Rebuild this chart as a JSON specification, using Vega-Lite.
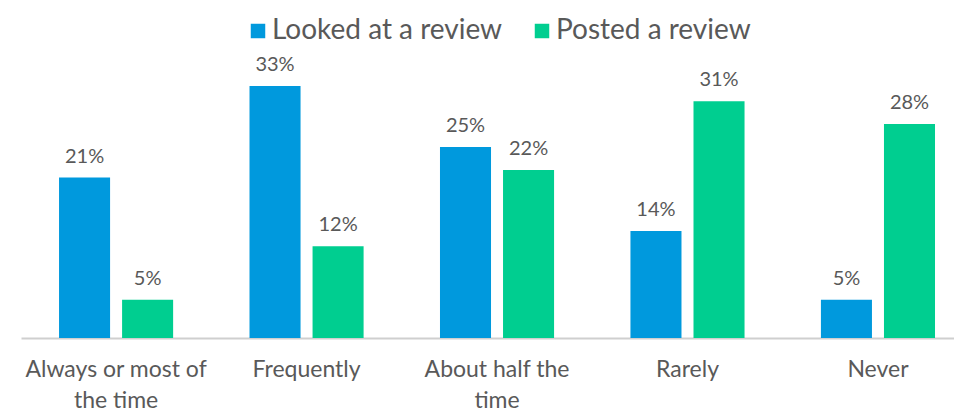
{
  "$schema": "https://vega.github.io/schema/vega-lite/v6.json",
  "autosize": "none",
  "width": 933,
  "height": 275,
  "padding": {"left": 21, "top": 63, "right": 0, "bottom": 73},
  "background": "white",
  "config": {"view": {"stroke": null}, "font": "Lato"},
  "data": {
    "values": [
      {"category": "Always or most of the time", "series": "Looked at a review", "value": 0.21},
      {"category": "Always or most of the time", "series": "Posted a review", "value": 0.05},
      {"category": "Frequently", "series": "Looked at a review", "value": 0.33},
      {"category": "Frequently", "series": "Posted a review", "value": 0.12},
      {"category": "About half the time", "series": "Looked at a review", "value": 0.25},
      {"category": "About half the time", "series": "Posted a review", "value": 0.22},
      {"category": "Rarely", "series": "Looked at a review", "value": 0.14},
      {"category": "Rarely", "series": "Posted a review", "value": 0.31},
      {"category": "Never", "series": "Looked at a review", "value": 0.05},
      {"category": "Never", "series": "Posted a review", "value": 0.28}
    ]
  },
  "encoding": {
    "x": {
      "field": "category",
      "type": "nominal",
      "sort": ["Always or most of the time", "Frequently", "About half the time", "Rarely", "Never"],
      "scale": {"paddingInner": 0.401, "paddingOuter": 0.1497, "align": 0.667},
      "axis": {
        "title": null,
        "labelAngle": 0,
        "ticks": false,
        "domainColor": "#cfcfcf",
        "domainWidth": 2,
        "labelFontSize": 23,
        "labelColor": "#595959",
        "labelPadding": 20,
        "labelLineHeight": 31,
        "labelLimit": 300,
        "labelExpr": "datum.value == 'Always or most of the time' ? ['Always or most of', 'the time'] : datum.value == 'About half the time' ? ['About half the', 'time'] : datum.value"
      }
    },
    "xOffset": {
      "field": "series",
      "sort": ["Looked at a review", "Posted a review"],
      "scale": {"paddingInner": 0.1905, "paddingOuter": 0}
    },
    "y": {
      "field": "value",
      "type": "quantitative",
      "scale": {"domain": [0, 0.36]},
      "axis": null
    }
  },
  "layer": [
    {
      "mark": {"type": "bar"},
      "encoding": {
        "color": {
          "field": "series",
          "type": "nominal",
          "sort": ["Looked at a review", "Posted a review"],
          "scale": {"range": ["#0099DD", "#00CE90"]},
          "legend": {
            "title": null,
            "orient": "none",
            "direction": "horizontal",
            "legendX": 223,
            "legendY": -46,
            "padding": 0,
            "symbolType": "square",
            "symbolSize": 210,
            "symbolStrokeWidth": 0,
            "symbolOpacity": 1,
            "labelFontSize": 28,
            "labelColor": "#595959",
            "labelOffset": 0,
            "labelLimit": 400,
            "columnPadding": 25
          }
        }
      }
    },
    {
      "mark": {"type": "text", "baseline": "alphabetic", "dy": -15, "fontSize": 20, "color": "#595959"},
      "encoding": {
        "text": {"field": "value", "type": "quantitative", "format": ".0%"}
      }
    }
  ]
}
